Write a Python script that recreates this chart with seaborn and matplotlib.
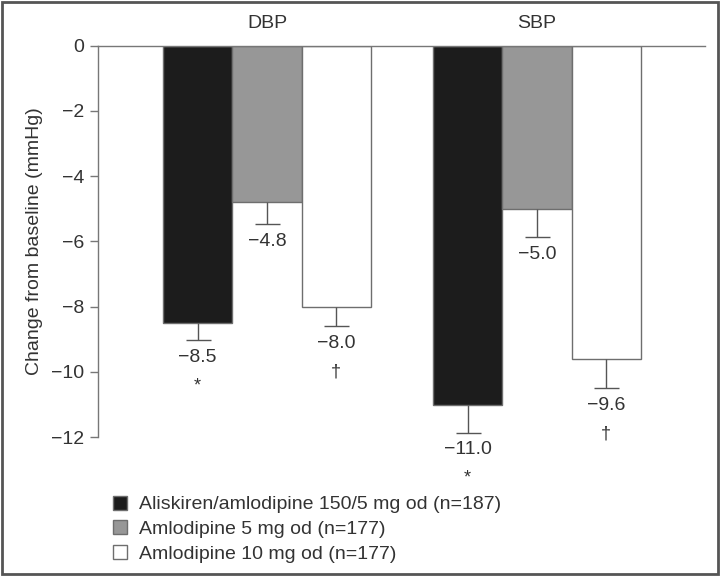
import matplotlib
matplotlib.use("Agg")
import matplotlib.pyplot as plt
import pandas as pd
import seaborn as sns
from matplotlib.patches import Rectangle

# data
measures = ["DBP", "SBP"]
treatments = ["Aliskiren/amlodipine 150/5 mg od (n=187)",
              "Amlodipine 5 mg od (n=177)",
              "Amlodipine 10 mg od (n=177)"]
dbp_change = [-8.5, -4.8, -8.0]
sbp_change = [-11.0, -5.0, -9.6]
dbp_err = [0.52, 0.66, 0.6]
sbp_err = [0.86, 0.88, 0.9]
dbp_marks = ["*", "", "\u2020"]
sbp_marks = ["*", "", "\u2020"]
yticks = [0, -2, -4, -6, -8, -10, -12]

rows = []
for i, t in enumerate(treatments):
    rows.append(("DBP", t, dbp_change[i], dbp_err[i], dbp_marks[i]))
    rows.append(("SBP", t, sbp_change[i], sbp_err[i], sbp_marks[i]))
df = pd.DataFrame(rows, columns=["measure", "treatment", "change", "err", "mark"])

sns.set_theme(style="white")
plt.rcParams["font.family"] = ["Liberation Sans", "DejaVu Sans"]
plt.rcParams["axes.unicode_minus"] = True
txt = "#333333"

fig, ax = plt.subplots(figsize=(7.2, 5.76), dpi=100)
fig.subplots_adjust(left=0.136, right=0.979, top=0.921, bottom=0.241)

colors = ["#1c1c1c", "#979797", "#ffffff"]
sns.barplot(data=df, x="measure", y="change", hue="treatment", order=measures,
            hue_order=treatments, palette=colors, width=0.77, errorbar=None,
            edgecolor="#6e6e6e", linewidth=1.0, saturation=1, ax=ax)

# error bars (downward only, one cap) and value labels
for cont, t in zip(ax.containers, treatments):
    for bar, m in zip(cont, measures):
        r = df[(df.treatment == t) & (df.measure == m)].iloc[0]
        xc = bar.get_x() + bar.get_width() / 2
        cap = r.change - r.err
        ax.errorbar(xc, r.change, yerr=[[r.err], [0]], fmt="none",
                    ecolor="#555555", elinewidth=1.0, capsize=0, zorder=3)
        ax.plot([xc], [cap], marker="_", markersize=18, markeredgewidth=1.0,
                color="#555555", zorder=3, clip_on=False)
        ax.annotate("\u2212%.1f" % abs(r.change), (xc, cap), xytext=(0, -12.5),
                    textcoords="offset points", ha="center", va="center",
                    fontsize=14, color=txt, annotation_clip=False)
        if r.mark:
            ax.annotate(r.mark, (xc, cap), xytext=(0, -33),
                        textcoords="offset points", ha="center", va="center",
                        fontsize=13, color=txt, annotation_clip=False)

ax.set_ylim(-12, 0)
ax.set_xlim(-0.626, 1.622)
ax.set_yticks(yticks)
ax.set_yticklabels(["0" if v == 0 else "\u2212%d" % abs(v) for v in yticks],
                   fontsize=14, color=txt)
ax.set_ylabel("Change from baseline (mmHg)", fontsize=14, color=txt, labelpad=6)
ax.set_xlabel("")

ax.xaxis.tick_top()
ax.tick_params(axis="x", top=False, bottom=False, labelsize=14, labelcolor=txt, pad=4)
ax.tick_params(axis="y", left=True, length=6, width=1, color="#777777", pad=4)
for s in ["right", "bottom"]:
    ax.spines[s].set_visible(False)
for s in ["left", "top"]:
    ax.spines[s].set_color("#777777")
    ax.spines[s].set_linewidth(1.0)

handles, labels = ax.get_legend_handles_labels()
ax.legend(handles, labels, loc="upper left", bbox_to_anchor=(0.146, 0.153),
          bbox_transform=fig.transFigure, frameon=False, fontsize=14,
          handlelength=0.72, handleheight=0.72, handletextpad=0.62,
          labelspacing=0.36, borderaxespad=0, labelcolor=txt)

fig.patches.append(Rectangle((0.003, 0.003), 0.994, 0.994, transform=fig.transFigure,
                             fill=False, edgecolor="#555555", linewidth=2))

fig.savefig("out.png", dpi=100)
